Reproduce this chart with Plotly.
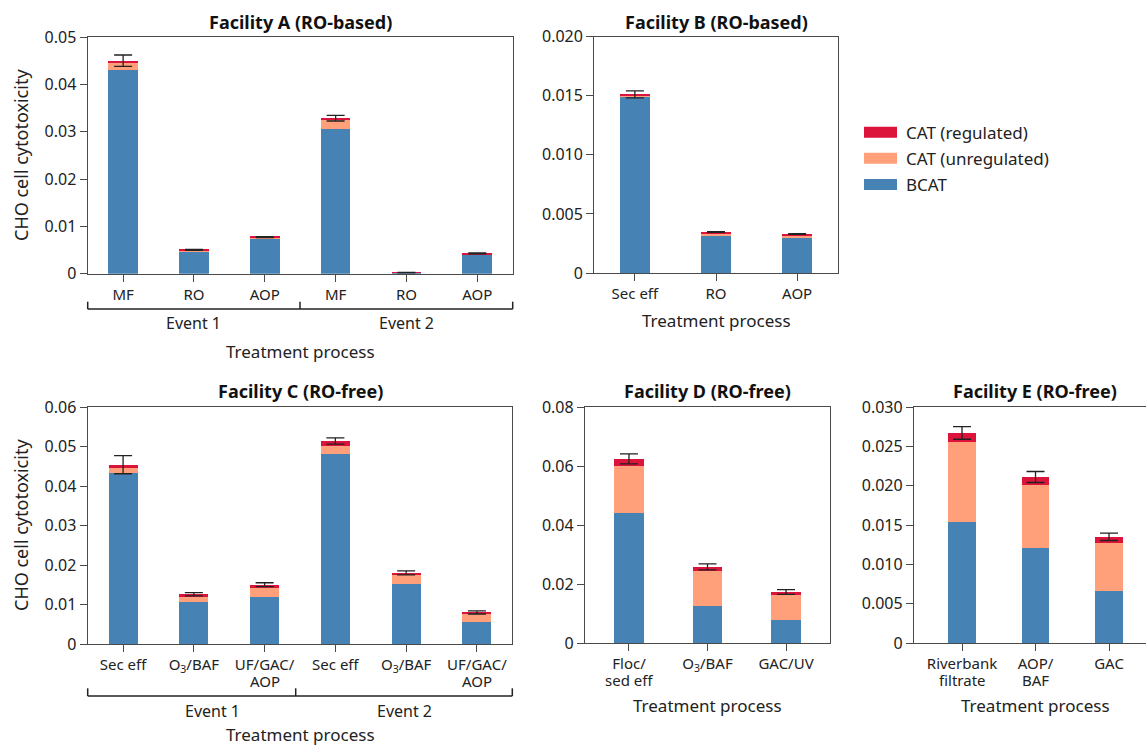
import plotly.graph_objects as go

W, H = 1146, 745

# ---------------- data ----------------
A_labels = ["MF", "RO", "AOP", "MF", "RO", "AOP"]
A_bcat = [0.0430, 0.00465, 0.0074, 0.0307, 0.0001, 0.0039]
A_unreg = [0.0017, 0.0002, 0.00015, 0.0018, 0.00005, 0.0002]
A_reg = [0.00036, 0.0002, 0.0002, 0.0004, 0.00008, 0.0002]
A_err = [0.0012, 0.0001, 0.0001, 0.0006, 0.00005, 0.0001]

B_labels = ["Sec eff", "RO", "AOP"]
B_bcat = [0.0150, 0.00322, 0.00299]
B_unreg = [0.00004, 0.00014, 0.00023]
B_reg = [0.00008, 0.00011, 0.00008]
B_err = [0.0003, 0.00003, 0.00003]

C_labels = ["Sec eff", "O<sub>3</sub>/BAF", "UF/GAC/|AOP", "Sec eff", "O<sub>3</sub>/BAF", "UF/GAC/|AOP"]
C_bcat = [0.0434, 0.0106, 0.0119, 0.0481, 0.0152, 0.0056]
C_unreg = [0.0012, 0.0015, 0.0024, 0.0020, 0.0023, 0.0020]
C_reg = [0.0008, 0.0005, 0.0007, 0.0013, 0.0005, 0.0004]
C_err = [0.0023, 0.0004, 0.0005, 0.0008, 0.0005, 0.0004]

D_labels = ["Floc/|sed eff", "O<sub>3</sub>/BAF", "GAC/UV"]
D_bcat = [0.0442, 0.0127, 0.0078]
D_unreg = [0.0158, 0.0118, 0.0085]
D_reg = [0.0024, 0.0013, 0.0010]
D_err = [0.0017, 0.0010, 0.0008]

E_labels = ["Riverbank|filtrate", "AOP/|BAF", "GAC"]
E_bcat = [0.0154, 0.0121, 0.0066]
E_unreg = [0.0101, 0.0080, 0.0061]
E_reg = [0.0012, 0.0010, 0.0008]
E_err = [0.0008, 0.0007, 0.00047]

A_yticks = [0, 0.01, 0.02, 0.03, 0.04, 0.05]
A_yticktext = ["0", "0.01", "0.02", "0.03", "0.04", "0.05"]
B_yticks = [0, 0.005, 0.010, 0.015, 0.020]
B_yticktext = ["0", "0.005", "0.010", "0.015", "0.020"]
C_yticks = [0, 0.01, 0.02, 0.03, 0.04, 0.05, 0.06]
C_yticktext = ["0", "0.01", "0.02", "0.03", "0.04", "0.05", "0.06"]
D_yticks = [0, 0.02, 0.04, 0.06, 0.08]
D_yticktext = ["0", "0.02", "0.04", "0.06", "0.08"]
E_yticks = [0, 0.005, 0.010, 0.015, 0.020, 0.025, 0.030]
E_yticktext = ["0", "0.005", "0.010", "0.015", "0.020", "0.025", "0.030"]

series_names = ["BCAT", "CAT (unregulated)", "CAT (regulated)"]
COL_BCAT = "#4682B4"
COL_UNREG = "#FFA07A"
COL_REG = "#DC143C"
colors = [COL_BCAT, COL_UNREG, COL_REG]

FONT = "Noto Sans"
AXC = "#4a4a4a"
TXT = "#222222"


def px(x):
    return x / W


def py(y):
    return 1 - y / H


fig = go.Figure()

panels = [
    dict(k="", labels=A_labels, d=[A_bcat, A_unreg, A_reg], err=A_err,
         xd=(87.7, 512.7), yd=(37.3, 273.7), xr=[-0.5, 5.5], ymax=0.05,
         yt=A_yticks, ytt=A_yticktext, bw=0.42, title="Facility A (RO-based)",
         tpos=(300, 22), right=True),
    dict(k="2", labels=B_labels, d=[B_bcat, B_unreg, B_reg], err=B_err,
         xd=(594.3, 837.7), yd=(36.7, 273.0), xr=[-0.5, 2.5], ymax=0.020,
         yt=B_yticks, ytt=B_yticktext, bw=0.37, title="Facility B (RO-based)",
         tpos=(716, 22), right=True),
    dict(k="3", labels=C_labels, d=[C_bcat, C_unreg, C_reg], err=C_err,
         xd=(87.7, 512.3), yd=(407.0, 644.0), xr=[-0.5, 5.5], ymax=0.06,
         yt=C_yticks, ytt=C_yticktext, bw=0.41, title="Facility C (RO-free)",
         tpos=(300, 391), right=True),
    dict(k="4", labels=D_labels, d=[D_bcat, D_unreg, D_reg], err=D_err,
         xd=(585.0, 830.0), yd=(407.0, 643.0), xr=[-0.56, 2.56], ymax=0.08,
         yt=D_yticks, ytt=D_yticktext, bw=0.38, title="Facility D (RO-free)",
         tpos=(707, 391), right=True),
    dict(k="5", labels=E_labels, d=[E_bcat, E_unreg, E_reg], err=E_err,
         xd=(914.0, 1146.0), yd=(407.0, 643.0), xr=[-0.653, 2.503], ymax=0.030,
         yt=E_yticks, ytt=E_yticktext, bw=0.38, title="Facility E (RO-free)",
         tpos=(1035, 391), right=False),
]

annotations = []
shapes = []
layout_axes = {}

for p in panels:
    k = p["k"]
    xa = "x" + k
    ya = "y" + k
    n = len(p["labels"])
    xs = list(range(n))
    for vals, name, col in zip(p["d"], series_names, colors):
        fig.add_trace(go.Bar(
            x=xs, y=vals, name=name, marker=dict(color=col, line=dict(width=0)),
            width=p["bw"], xaxis=xa, yaxis=ya, showlegend=False,
        ))
    totals = [a + b + c for a, b, c in zip(*p["d"])]
    fig.add_trace(go.Scatter(
        x=xs, y=totals, mode="markers", marker=dict(size=1, opacity=0),
        error_y=dict(type="data", array=p["err"], symmetric=True,
                     color="#222222", thickness=1.3, width=9),
        xaxis=xa, yaxis=ya, showlegend=False, hoverinfo="skip",
    ))
    first_lines = [lab.split("|")[0] for lab in p["labels"]]
    layout_axes["xaxis" + k] = dict(
        domain=[px(p["xd"][0]), px(p["xd"][1])], anchor=ya, range=p["xr"],
        tickmode="array", tickvals=xs, ticktext=first_lines, automargin=False,
        showline=True, linecolor=AXC, linewidth=1.3, mirror=True,
        ticks="outside", ticklen=7, tickcolor=AXC, tickwidth=1.3,
        showgrid=False, zeroline=False,
        tickfont=dict(family=FONT, size=15, color=TXT),
    )
    layout_axes["yaxis" + k] = dict(
        domain=[py(p["yd"][1]), py(p["yd"][0])], anchor=xa, range=[0, p["ymax"]],
        tickmode="array", tickvals=p["yt"], ticktext=p["ytt"], automargin=False,
        showline=True, linecolor=AXC, linewidth=1.3,
        mirror=True if p["right"] else False,
        ticks="outside", ticklen=7, tickcolor=AXC, tickwidth=1.3,
        showgrid=False, zeroline=False,
        tickfont=dict(family=FONT, size=16, color=TXT),
    )
    # second lines of tick labels
    for i, lab in enumerate(p["labels"]):
        if "|" in lab:
            second = lab.split("|")[1]
            annotations.append(dict(
                x=i, xref=xa, y=py(p["yd"][1] + 36.5), yref="paper",
                text=second, showarrow=False, xanchor="center", yanchor="middle",
                font=dict(family=FONT, size=15, color=TXT),
            ))
    # title
    annotations.append(dict(
        x=px(p["tpos"][0]), y=py(p["tpos"][1]), xref="paper", yref="paper",
        text="<b>" + p["title"] + "</b>", showarrow=False,
        xanchor="center", yanchor="middle",
        font=dict(family=FONT, size=18, color="#111"),
    ))

# axis titles
for (x, y) in [(21, 155), (21, 525)]:
    annotations.append(dict(
        x=px(x), y=py(y), xref="paper", yref="paper", text="CHO cell cytotoxicity",
        textangle=-90, showarrow=False, xanchor="center", yanchor="middle",
        font=dict(family=FONT, size=18, color=TXT),
    ))
for (x, y) in [(300, 351), (716, 320), (300, 734), (707, 705), (1035, 705)]:
    annotations.append(dict(
        x=px(x), y=py(y), xref="paper", yref="paper", text="Treatment process",
        showarrow=False, xanchor="center", yanchor="middle",
        font=dict(family=FONT, size=17, color=TXT),
    ))

# event brackets
brackets = [
    dict(x=(87.7, 300.0, 512.7), y=309.0, ytop=301.7, lab=[(193, 323), (406, 323)]),
    dict(x=(87.7, 295.7, 512.3), y=696.0, ytop=688.3, lab=[(212, 711), (404, 711)]),
]
for b in brackets:
    shapes.append(dict(type="line", xref="paper", yref="paper",
                       x0=px(b["x"][0]), x1=px(b["x"][2]), y0=py(b["y"]), y1=py(b["y"]),
                       line=dict(color=TXT, width=1.5)))
    for xx in b["x"]:
        shapes.append(dict(type="line", xref="paper", yref="paper",
                           x0=px(xx), x1=px(xx), y0=py(b["y"]), y1=py(b["ytop"]),
                           line=dict(color=TXT, width=1.5)))
    for j, (lx, ly) in enumerate(b["lab"]):
        annotations.append(dict(
            x=px(lx), y=py(ly), xref="paper", yref="paper", text="Event %d" % (j + 1),
            showarrow=False, xanchor="center", yanchor="middle",
            font=dict(family=FONT, size=16, color=TXT),
        ))

# custom legend
legend_items = [("CAT (regulated)", COL_REG, 132.2), ("CAT (unregulated)", COL_UNREG, 158.2),
                ("BCAT", COL_BCAT, 184.5)]
for name, col, yc in legend_items:
    shapes.append(dict(type="rect", xref="paper", yref="paper",
                       x0=px(864), x1=px(897), y0=py(yc - 5.5), y1=py(yc + 5.5),
                       fillcolor=col, line=dict(width=0)))
    annotations.append(dict(
        x=px(904), y=py(yc), xref="paper", yref="paper", text=name, showarrow=False,
        xanchor="left", yanchor="middle", font=dict(family=FONT, size=17, color=TXT),
    ))

fig.update_layout(
    width=W, height=H, margin=dict(l=0, r=0, t=0, b=0, autoexpand=False),
    paper_bgcolor="white", plot_bgcolor="white",
    barmode="stack", showlegend=False,
    annotations=annotations, shapes=shapes,
    **layout_axes,
)

fig.write_html("out.html")
